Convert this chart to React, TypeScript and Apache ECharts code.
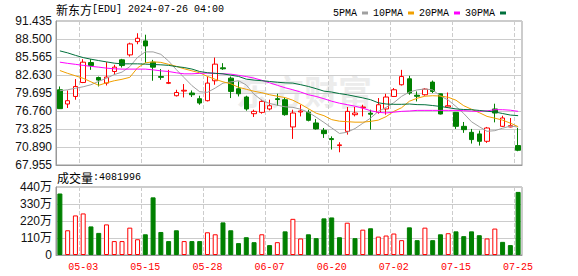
import React, { useEffect, useRef } from "react";
import * as echarts from "echarts";

const dates = [
  "04-30", "05-01", "05-02", "05-03", "05-06", "05-07", "05-08", "05-09", "05-10", "05-13",
  "05-14", "05-15", "05-16", "05-17", "05-20", "05-21", "05-22", "05-23", "05-24", "05-28",
  "05-29", "05-30", "05-31", "06-03", "06-04", "06-05", "06-06", "06-07", "06-10", "06-11",
  "06-12", "06-13", "06-14", "06-17", "06-18", "06-20", "06-21", "06-24", "06-25", "06-26",
  "06-27", "06-28", "07-01", "07-02", "07-03", "07-05", "07-08", "07-09", "07-10", "07-11",
  "07-12", "07-15", "07-16", "07-17", "07-18", "07-19", "07-22", "07-23", "07-24", "07-25",
];

const opens = [
  80.22, 77.9, 79.13, 81.41, 84.66, 82.22, 81.31, 83.2, 85.1, 85.91,
  88.07, 88.19, 84.72, 82.38, 81.28, 79.25, 80.01, 79.69, 78.76, 78.44,
  81.69, 83.8, 82.12, 80.39, 79.04, 76.32, 76.54, 77.09, 78.76, 78.6,
  74.16, 76.6, 76.54, 74.81, 73.61, 72.26, 71.12, 73.44, 76.16, 77.3,
  76.4, 76.54, 77.09, 79.13, 81.04, 82.01, 79.33, 79.41, 81.47, 79.57,
  77.41, 76.54, 74.26, 73.28, 73.02, 71.82, 77.09, 74.26, 74.16, 71.12,
];
const closes = [
  77.14, 78.44, 80.76, 84.72, 84.17, 81.8, 82.29, 83.91, 84.17, 87.7,
  88.62, 87.37, 83.91, 82.25, 81.39, 79.78, 80.14, 79.41, 78.06, 81.31,
  84.4, 83.64, 79.95, 79.57, 77.09, 76.7, 78.32, 77.62, 78.63, 76.16,
  76.43, 76.76, 75.24, 73.84, 73.07, 72.1, 71.24, 76.7, 76.43, 77.41,
  76.24, 77.78, 79.04, 80.22, 82.38, 79.69, 79.16, 80.33, 79.95, 76.27,
  77.62, 74.26, 73.72, 72.1, 71.82, 73.99, 76.43, 75.62, 74.37, 70.36,
];
const lows = [
  77.1, 77.25, 78.6, 81.31, 83.47, 80.76, 80.92, 82.66, 83.85, 85.63,
  87.65, 84.6, 81.69, 81.85, 81.15, 79.13, 78.97, 79.04, 77.78, 78.32,
  81.04, 83.47, 78.87, 79.13, 76.81, 75.79, 76.32, 76.86, 77.62, 75.99,
  72.21, 75.88, 75.07, 73.72, 72.37, 70.47, 70.03, 72.91, 75.88, 75.88,
  73.72, 76.32, 76.16, 79.04, 80.92, 79.41, 78.32, 79.25, 79.69, 76.2,
  77.25, 73.84, 73.2, 71.45, 71.12, 71.56, 74.91, 74.16, 74.1, 70.2,
];
const highs = [
  80.76, 80.11, 81.96, 85.21, 85.21, 82.38, 84.72, 84.29, 85.26, 87.9,
  89.44, 89.2, 85.1, 83.6, 83.47, 80.22, 81.15, 80.11, 79.25, 82.38,
  85.47, 84.56, 82.38, 81.57, 79.25, 76.97, 78.6, 78.6, 79.57, 79.04,
  76.97, 77.78, 76.97, 75.46, 73.99, 72.63, 71.66, 77.41, 77.41, 77.78,
  76.97, 78.87, 79.57, 80.5, 83.47, 82.5, 79.95, 80.5, 81.73, 79.6,
  79.78, 76.6, 74.97, 73.84, 73.56, 74.16, 77.95, 75.99, 75.62, 73.99,
];

const volumes = [
  3980000, 1600000, 2560000, 2690000, 1850000, 1430000, 1980000, 900000, 900000, 1770000,
  1020000, 1340000, 3730000, 1490000, 900000, 1600000, 900000, 900000, 900000, 1470000,
  1340000, 2110000, 1600000, 770000, 1150000, 830000, 1340000, 640000, 830000, 1530000,
  2340000, 1070000, 1340000, 1090000, 2370000, 2430000, 1150000, 2090000, 1090000, 1640000,
  1730000, 1190000, 1260000, 1390000, 960000, 1790000, 960000, 1770000, 960000, 1340000,
  1410000, 1530000, 1220000, 1530000, 1280000, 1070000, 1710000, 850000, 640000, 4081996,
];

const ma5 = [
  80.06, 80.22, 80.47, 80.71, 81.04, 81.6, 82.1, 82.7, 83.1, 84.0,
  85.5, 86.4, 86.4, 86.0, 84.9, 83.5, 82.2, 80.9, 79.9, 79.8,
  80.5, 81.3, 81.5, 81.7, 81.0, 79.5, 78.5, 78.0, 77.7, 77.45,
  77.35, 77.05, 76.55, 75.75, 74.9, 74.0, 73.1, 73.3, 73.9, 74.75,
  75.6, 76.7, 77.35, 78.12, 79.15, 79.85, 80.2, 80.35, 80.2, 79.2,
  78.55, 77.5, 76.35, 75.0, 74.2, 73.45, 73.55, 73.95, 74.3, 74.15,
];
const ma10 = [
  83.36, 82.9, 82.5, 82.09, 81.52, 80.95, 81.36, 81.69, 81.93, 82.25,
  83.8, 84.61, 84.77, 84.69, 84.37, 84.04, 83.64, 83.31, 82.99, 82.4,
  81.93, 81.52, 81.2, 80.63, 80.3, 79.98, 79.74, 79.41, 79.17, 78.95,
  78.52, 77.87, 77.14, 76.4, 76.0, 75.35, 75.1, 75.02, 74.94, 74.94,
  75.07, 75.27, 75.84, 76.7, 77.3, 78.35, 78.84, 79.17, 79.25, 79.2,
  79.0, 78.52, 77.62, 77.05, 76.49, 75.88, 75.59, 75.27, 74.78, 74.21,
];
const ma20 = [
  84.72, 84.53, 84.37, 84.2, 84.04, 83.91, 83.75, 83.64, 83.59, 83.59,
  83.59, 83.59, 83.47, 83.31, 83.2, 82.99, 82.82, 82.82, 82.9, 82.94,
  82.9, 82.82, 82.77, 82.58, 82.38, 82.12, 81.77, 81.36, 80.95, 80.55,
  80.22, 79.85, 79.41, 79.13, 78.76, 78.35, 78.03, 77.79, 77.54, 77.22,
  76.81, 76.55, 76.44, 76.57, 76.7, 76.76, 76.86, 76.86, 76.86, 76.86,
  76.86, 76.86, 76.81, 76.73, 76.7, 76.78, 76.97, 76.97, 76.89, 76.7,
];
const ma30 = [
  86.56, 86.24, 85.83, 85.47, 85.21, 84.98, 84.77, 84.56, 84.45, 84.45,
  84.45, 84.4, 84.34, 84.29, 84.2, 84.0, 83.85, 83.6, 83.2, 83.0,
  82.9, 82.82, 82.6, 82.4, 81.95, 81.8, 81.7, 81.57, 81.45, 81.35,
  81.31, 81.05, 80.76, 80.4, 80.0, 79.85, 79.6, 79.41, 79.15, 78.9,
  78.6, 78.1, 77.9, 77.85, 77.85, 77.9, 77.8, 77.78, 77.65, 77.5,
  77.3, 77.1, 77.0, 76.97, 76.85, 76.72, 76.6, 76.35, 76.1, 76.0,
];

const priceTicks = [67.955, 70.89, 73.825, 76.76, 79.695, 82.63, 85.565, 88.5, 91.435];
const volumeTicks = [0, 1100000, 2200000, 3300000, 4400000];
const maNames = ["5PMA", "10PMA", "20PMA", "30PMA"];
const maColors = ["#a0a0a0", "#f0a000", "#ff00ff", "#00703c"];
const labelEvery = 8;
const labelOffset = 3;

const UP = "#ff0000";
const DOWN = "#008000";

export default function App() {
  const ref = useRef<HTMLDivElement>(null);

  useEffect(() => {
    if (!ref.current) return;
    const chart = echarts.init(ref.current, undefined, { renderer: "svg" });

    const candleData = dates.map((_, i) => [opens[i], closes[i], lows[i], highs[i]]);
    const volData = volumes.map((v, i) => {
      const up = i === 0 ? closes[i] >= opens[i] : closes[i] >= closes[i - 1];
      return {
        value: v,
        itemStyle: {
          color: up ? "#ffffff" : DOWN,
          borderColor: up ? UP : DOWN,
          borderWidth: 1,
        },
      };
    });
    const maSeries = [ma5, ma10, ma20, ma30];
    const showIdx = (idx: number) => idx % labelEvery === labelOffset;
    const lastVol = volumes[volumes.length - 1];

    const monoCJK = "'Liberation Mono', 'Noto Sans CJK SC', monospace";
    const sansCJK = "'Liberation Sans', 'Noto Sans CJK SC', sans-serif";

    const xCommon = {
      type: "category" as const,
      data: dates,
      boundaryGap: true,
      axisLine: { lineStyle: { color: "#999" } },
      axisTick: { show: false },
      splitLine: {
        show: true,
        interval: (idx: number) => showIdx(idx),
        lineStyle: { color: "#ccc", type: "dashed" as const, width: 1 },
      },
    };

    chart.setOption({
      animation: false,
      backgroundColor: "#ffffff",
      grid: [
        { left: 56, right: 56, top: 21, height: 144, show: true, borderColor: "#999", borderWidth: 1 },
        { left: 56, right: 56, top: 187, height: 68, show: true, borderColor: "#999", borderWidth: 1 },
      ],
      legend: {
        data: maNames.map((n) => ({ name: n, icon: "rect" })),
        right: 67,
        top: 3,
        align: "right",
        itemWidth: 6,
        itemHeight: 3,
        itemGap: 5,
        textStyle: { fontFamily: monoCJK, fontSize: 10, color: "#000", padding: [0, 0, 0, 0] },
        selectedMode: false,
      },
      graphic: [
        {
          type: "text",
          left: 56,
          top: 3,
          z: 10,
          style: {
            text: "{a|新东方}{b|[EDU] 2024-07-26 04:00}",
            rich: {
              a: { fontFamily: "'Noto Sans CJK SC'", fontSize: 12, fill: "#000" },
              b: { fontFamily: monoCJK, fontSize: 10, fill: "#000" },
            },
          },
        },
        {
          type: "text",
          left: 57,
          top: 171,
          z: 10,
          style: {
            text: "{a|成交量}{b|:" + lastVol + "}",
            rich: {
              a: { fontFamily: "'Noto Sans CJK SC'", fontSize: 12, fill: "#000" },
              b: { fontFamily: monoCJK, fontSize: 10, fill: "#000" },
            },
          },
        },
        {
          type: "text",
          left: 236,
          top: 73,
          z: -1,
          silent: true,
          style: {
            text: "东方财富",
            fontFamily: "'Noto Sans CJK SC'",
            fontSize: 34,
            fontWeight: "bold",
            fill: "#ececec",
          },
        },
      ],
      xAxis: [
        { ...xCommon, gridIndex: 0, axisLabel: { show: false } },
        {
          ...xCommon,
          gridIndex: 1,
          axisLabel: {
            show: true,
            interval: (idx: number) => showIdx(idx),
            color: UP,
            fontFamily: monoCJK,
            fontSize: 10,
            margin: 7,
          },
        },
      ],
      yAxis: [
        {
          type: "value",
          gridIndex: 0,
          min: priceTicks[0],
          max: priceTicks[priceTicks.length - 1],
          axisLine: { show: true, lineStyle: { color: "#999" } },
          axisTick: { show: false, customValues: priceTicks },
          axisLabel: {
            customValues: priceTicks,
            formatter: (v: number) => v.toFixed(3),
            color: "#111",
            fontFamily: sansCJK,
            fontSize: 12,
            margin: 4,
          },
          splitLine: { show: true, lineStyle: { color: "#ccc", width: 1 } },
        },
        {
          type: "value",
          gridIndex: 1,
          min: volumeTicks[0],
          max: volumeTicks[volumeTicks.length - 1],
          interval: volumeTicks[1] - volumeTicks[0],
          axisLine: { show: true, lineStyle: { color: "#999" } },
          axisTick: { show: false },
          axisLabel: {
            formatter: (v: number) => (v === 0 ? "0" : v / 10000 + "万"),
            color: "#111",
            fontFamily: sansCJK,
            fontSize: 12,
            margin: 4,
          },
          splitLine: { show: true, lineStyle: { color: "#ccc", width: 1 } },
        },
      ],
      series: [
        {
          name: "K",
          type: "candlestick",
          xAxisIndex: 0,
          yAxisIndex: 0,
          data: candleData,
          barWidth: 5,
          z: 3,
          itemStyle: {
            color: "#ffffff",
            color0: DOWN,
            borderColor: UP,
            borderColor0: DOWN,
            borderWidth: 1,
          },
        },
        ...maSeries.map((d, k) => ({
          name: maNames[k],
          type: "line",
          xAxisIndex: 0,
          yAxisIndex: 0,
          data: d,
          symbol: "none",
          smooth: false,
          z: 4,
          color: maColors[k],
          itemStyle: { color: maColors[k] },
          lineStyle: { color: maColors[k], width: 1 },
        })),
        {
          name: "VOL",
          type: "bar",
          xAxisIndex: 1,
          yAxisIndex: 1,
          data: volData,
          barWidth: 5,
        },
      ],
    });

    return () => chart.dispose();
  }, []);

  return (
    <div
      ref={ref}
      style={{ position: "absolute", left: 0, top: 0, width: 578, height: 276 }}
    />
  );
}
